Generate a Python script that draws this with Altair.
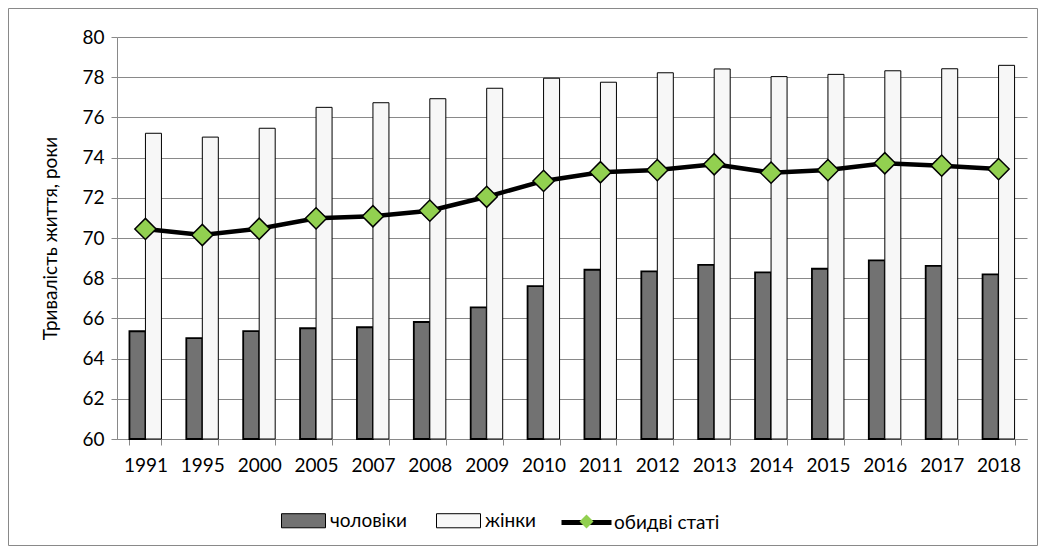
import altair as alt
import pandas as pd

years = ["1991", "1995", "2000", "2005", "2007", "2008", "2009", "2010",
         "2011", "2012", "2013", "2014", "2015", "2016", "2017", "2018"]
men = [65.36, 65.02, 65.37, 65.51, 65.56, 65.82, 66.55, 67.61,
       68.42, 68.34, 68.66, 68.29, 68.47, 68.89, 68.61, 68.19]
women = [75.21, 75.02, 75.46, 76.50, 76.73, 76.93, 77.45, 77.95,
         77.75, 78.22, 78.41, 78.03, 78.14, 78.32, 78.42, 78.59]
both = [70.45, 70.15, 70.46, 70.98, 71.08, 71.36, 72.05, 72.84,
        73.27, 73.38, 73.67, 73.25, 73.38, 73.72, 73.60, 73.43]

s_men = "чоловіки"
s_women = "жінки"
s_both = "обидві статі"
y_title = "Тривалість життя, роки"

FONT = "Lato"
FS = 19
GRAY = "#898989"

bars_df = pd.DataFrame(
    {"year": years * 2,
     "series": [s_men] * len(years) + [s_women] * len(years),
     "value": men + women}
)
line_df = pd.DataFrame({"year": years, "value": both, "s_line": [s_both] * len(years),
                        "s_pt": [s_both] * len(years)})

W, H = 910, 402
pi = 1 - 32 / (W / len(years))

xscale = alt.Scale(domain=years, paddingInner=pi, paddingOuter=pi / 2)
yscale = alt.Scale(domain=[60, 80], nice=False, zero=False)

x_enc = alt.X("year:N", scale=xscale, sort=years, title=None,
              axis=alt.Axis(labelAngle=0, tickBand="extent", grid=False,
                            domainColor=GRAY, tickColor=GRAY, tickSize=6,
                            labelPadding=11, labelFontSize=FS, labelFont=FONT,
                            labelColor="black"))
y_enc = alt.Y("value:Q", scale=yscale, title=y_title,
              axis=alt.Axis(values=list(range(60, 81, 2)), grid=True, gridColor=GRAY,
                            domainColor=GRAY, tickColor=GRAY, tickSize=6,
                            labelPadding=7, labelFontSize=FS, labelFont=FONT,
                            labelColor="black", titleFont=FONT, titleFontSize=FS,
                            titleFontWeight="normal", titleColor="black",
                            titleX=-67, titleY=H / 2, titleAngle=270,
                            titleAlign="center", titleBaseline="middle"))

rect_path = "M-1,-0.32H1V0.32H-1Z"

bars = alt.Chart(bars_df).mark_bar(stroke="black").encode(
    x=x_enc,
    y=y_enc,
    y2=alt.datum(60),
    xOffset=alt.XOffset("series:N", sort=[s_men, s_women],
                        scale=alt.Scale(domain=[s_men, s_women])),
    fill=alt.Fill("series:N",
                  scale=alt.Scale(domain=[s_men, s_women], range=["#727272", "#f7f7f7"]),
                  legend=alt.Legend(orient="none", legendX=164, legendY=461,
                                    direction="horizontal", title=None,
                                    symbolType=rect_path, symbolSize=1936,
                                    symbolStrokeColor="black", symbolStrokeWidth=1,
                                    labelFont=FONT, labelFontSize=FS, labelColor="black",
                                    labelOffset=4, columnPadding=27, padding=0)),
    strokeWidth=alt.condition(alt.datum.series == s_men, alt.value(1.8), alt.value(1)),
)

line = alt.Chart(line_df).mark_line(strokeWidth=4.5).encode(
    x=alt.X("year:N", scale=xscale, sort=years),
    y=alt.Y("value:Q", scale=yscale),
    stroke=alt.Stroke("s_line:N", scale=alt.Scale(domain=[s_both], range=["black"]),
                      legend=alt.Legend(orient="none", legendX=442, legendY=458,
                                        title=None, symbolType="stroke", symbolSize=2500,
                                        symbolStrokeWidth=5,
                                        labelFont=FONT, labelFontSize=FS,
                                        labelColor="black", labelOffset=0, padding=0)),
)

points = alt.Chart(line_df).mark_point(filled=True, fill="#92D050", stroke="black",
                                       strokeWidth=1.5, size=450, opacity=1).encode(
    x=alt.X("year:N", scale=xscale, sort=years),
    y=alt.Y("value:Q", scale=yscale),
    shape=alt.Shape("s_pt:N", scale=alt.Scale(domain=[s_both], range=["diamond"]),
                    legend=alt.Legend(orient="none", legendX=460, legendY=475,
                                      title=None, symbolSize=196,
                                      symbolFillColor="#92D050", symbolStrokeColor="black",
                                      symbolStrokeWidth=1.2, labelExpr="''", padding=0,
                                      labelFontSize=FS)),
)

frame = alt.Chart(pd.DataFrame({"f": [0]})).mark_rect(
    fill=None, stroke=GRAY, strokeWidth=1
).encode(
    x=alt.value(-108.5), x2=alt.value(920.5), y=alt.value(-28.5), y2=alt.value(508.5)
)

chart = alt.layer(bars, line, points, frame).resolve_scale(
    fill="independent", stroke="independent", shape="independent"
).properties(
    width=W, height=H,
    autosize=alt.AutoSizeParams(type="none"),
    padding={"left": 109, "top": 29, "right": 11, "bottom": 107},
    background="white",
).configure_view(stroke=None)

chart.save("out.html", embed_options={"renderer": "svg", "actions": False})
